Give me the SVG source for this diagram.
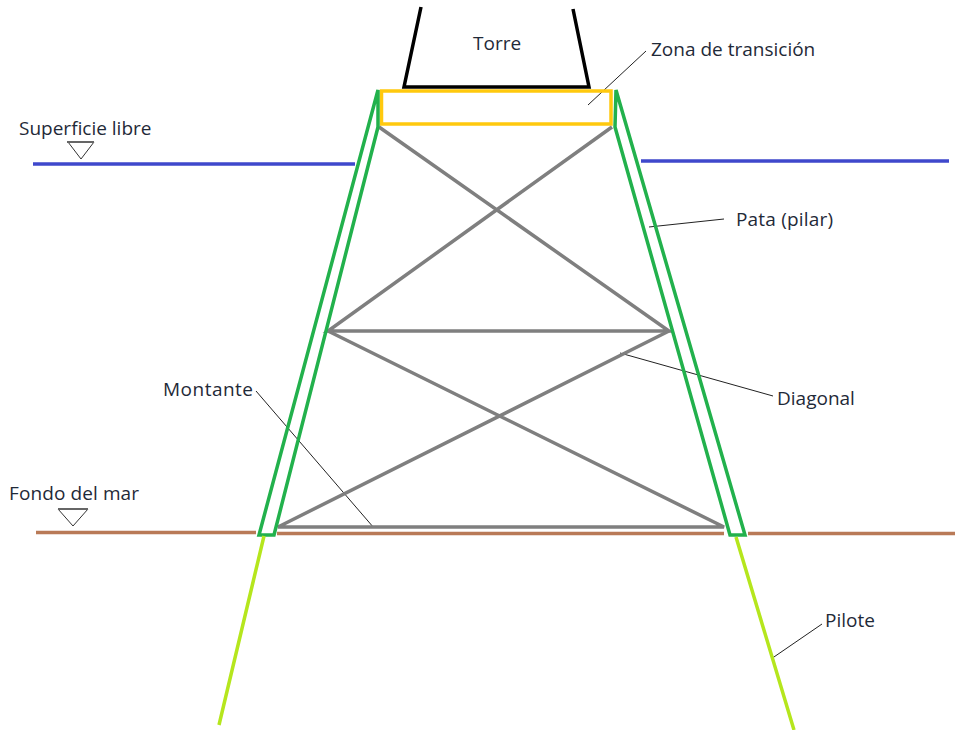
<svg xmlns="http://www.w3.org/2000/svg" width="955" height="730" viewBox="0 0 955 730">
<style>
text{font-family:"Open Sans","Noto Sans","DejaVu Sans",sans-serif;font-size:19px;fill:#1f2a38}
.g{stroke:#22b14c;stroke-width:3.5;fill:none}
.m{stroke:#7f7f7f;stroke-width:3.5;fill:none}
.t{stroke:#222;stroke-width:1;fill:none}
.tri{stroke:#333;stroke-width:1;fill:none}
.b{stroke:#3f48cc;stroke-width:3.5}
.f{stroke:#b97a57;stroke-width:3.5}
.p{stroke:#b5e61d;stroke-width:3.5}
</style>
<rect width="955" height="730" fill="#fff"/>
<g id="connectors">
<path class="t" d="M646 51L588 105"/>
<path class="t" d="M724 219L649 227"/>
<path class="t" d="M773 396L620 353"/>
<path class="t" d="M256 391L374 528"/>
<path class="t" d="M822 624L771 659"/>
</g>
<g id="torre"><path d="M421 7L404 87H589L573 9" fill="none" stroke="#000" stroke-width="3.500"/><text x="473" y="50">Torre</text></g>
<g id="zona-transicion"><rect x="381.500" y="91" width="229.500" height="33" fill="none" stroke="#ffc90e" stroke-width="3.500"/><text x="651" y="56">Zona de transición</text></g>
<g id="superficie-libre"><path class="b" d="M33 164H355M641 161H949"/><path class="tri" d="M68 142H94L81 159Z"/><path d="M67 142H94" stroke="#666" stroke-width="2"/><text x="19" y="135">Superficie libre</text></g>
<g id="fondo-mar"><path class="f" d="M36 532.500H256M277 533.500H724M748 533.500H955"/><path class="tri" d="M58 509H88L73 526Z"/><path d="M58 509H88" stroke="#666" stroke-width="2"/><text x="9" y="500" textLength="130">Fondo del mar</text></g>
<g id="arriostramiento">
<path class="m" d="M379 127L669 331H328L612 127"/>
<path class="m" d="M328 331L724 527H278L669 331"/>
</g>
<g id="patas"><path class="g" d="M378 90L259 535H274L378 127Z"/><path class="g" d="M616 90L745 535H730L615 127Z"/><text x="736" y="226" textLength="97">Pata (pilar)</text></g>
<g id="pilote"><path class="p" d="M264 536L219 725M736 537L794 730"/><text x="825" y="627">Pilote</text></g>
<g id="montante"><text x="163" y="396" textLength="90">Montante</text></g>
<g id="diagonal"><text x="777" y="405">Diagonal</text></g>
</svg>
